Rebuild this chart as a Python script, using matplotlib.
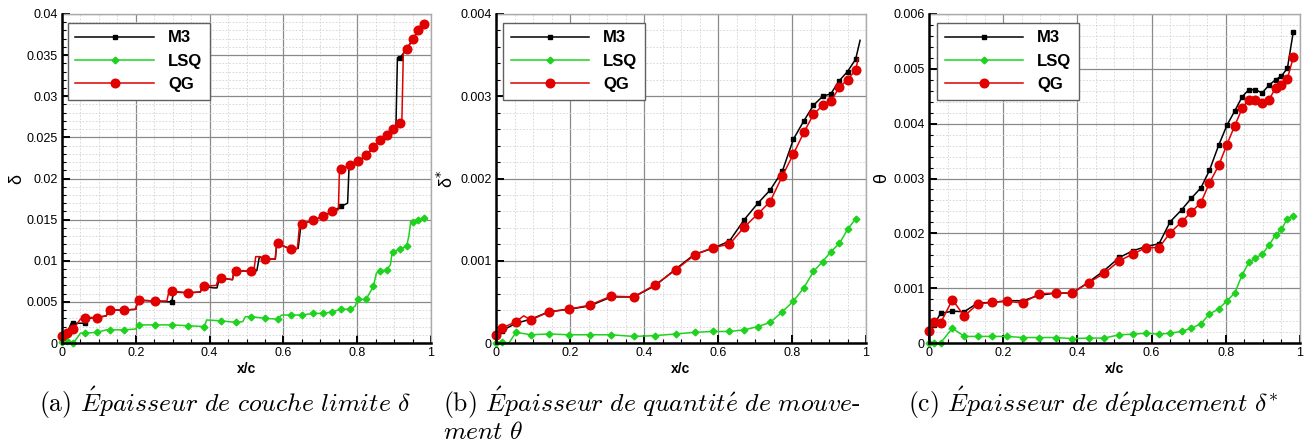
import matplotlib
matplotlib.use("Agg")
import matplotlib.pyplot as plt
from matplotlib.lines import Line2D
from matplotlib.ticker import MultipleLocator, FuncFormatter

# ---------------- data ----------------
series_names = ["M3", "LSQ", "QG"]

# marker abscissae shared by panels (a) and (c)
xm_ac = [0.0, 0.0135, 0.031, 0.063, 0.095, 0.131, 0.169, 0.21, 0.253, 0.297, 0.341,
         0.386, 0.43, 0.472, 0.513, 0.549, 0.585, 0.62, 0.65, 0.681, 0.707, 0.733,
         0.756, 0.781, 0.803, 0.824, 0.844, 0.862, 0.88, 0.898, 0.916, 0.934, 0.95,
         0.966, 0.982]

# panel (a): boundary-layer thickness delta, markers
a_m3_m = [0.0008, 0.0012, 0.0024, 0.0024, 0.0031, 0.0040, 0.0040, 0.0052, 0.0051, 0.0050,
          0.0061, 0.0069, 0.0079, 0.0088, 0.0087, 0.0102, 0.0121, 0.0114, 0.0145, 0.0149,
          0.0154, 0.0160, 0.0166, 0.0216, 0.0221, 0.0228, 0.0238, 0.0247, 0.0253, 0.0260,
          0.0347, 0.0357, 0.0369, 0.0380, 0.0388]
a_lsq_m = [0.0001, 0.0002, 0.0000, 0.0012, 0.0013, 0.0016, 0.0016, 0.0022, 0.0022, 0.0022,
           0.0021, 0.0020, 0.0027, 0.0025, 0.0032, 0.0030, 0.0029, 0.0034, 0.0034, 0.0036,
           0.0036, 0.0038, 0.0041, 0.0041, 0.0053, 0.0053, 0.0069, 0.0087, 0.0089, 0.0111,
           0.0114, 0.0118, 0.0147, 0.0150, 0.0152]
a_qg_m = [0.0008, 0.0012, 0.0017, 0.0031, 0.0031, 0.0040, 0.0040, 0.0052, 0.0051, 0.0063,
          0.0061, 0.0069, 0.0079, 0.0088, 0.0087, 0.0102, 0.0121, 0.0114, 0.0145, 0.0149,
          0.0154, 0.0160, 0.0212, 0.0216, 0.0221, 0.0228, 0.0238, 0.0247, 0.0253, 0.0260,
          0.0267, 0.0357, 0.0369, 0.0380, 0.0388]

# panel (a): staircase line vertices
a_m3_lx = [0, 0.0135, 0.025, 0.031, 0.063, 0.07, 0.095, 0.12, 0.126, 0.131, 0.169, 0.2,
           0.205, 0.21, 0.253, 0.297, 0.303, 0.341, 0.375, 0.38, 0.386, 0.41, 0.42, 0.427,
           0.43, 0.462, 0.467, 0.472, 0.513, 0.528, 0.535, 0.549, 0.578, 0.582, 0.585,
           0.62, 0.64, 0.648, 0.65, 0.681, 0.707, 0.733, 0.756, 0.774, 0.778, 0.781, 0.803,
           0.824, 0.844, 0.862, 0.88, 0.898, 0.905, 0.909, 0.916, 0.934, 0.95, 0.966, 0.982]
a_m3_ly = [0.0008, 0.0012, 0.0024, 0.0024, 0.0024, 0.0030, 0.0031, 0.0033, 0.0040, 0.0040,
           0.0040, 0.0041, 0.0052, 0.0052, 0.0051, 0.0050, 0.0062, 0.0061, 0.0062, 0.0069,
           0.0069, 0.0067, 0.0067, 0.0079, 0.0079, 0.0077, 0.0088, 0.0088, 0.0087, 0.0088,
           0.0105, 0.0102, 0.0102, 0.0121, 0.0121, 0.0114, 0.0115, 0.0145, 0.0145, 0.0149,
           0.0154, 0.0160, 0.0166, 0.0170, 0.0215, 0.0216, 0.0221, 0.0228, 0.0238, 0.0247,
           0.0253, 0.0260, 0.0263, 0.0347, 0.0347, 0.0357, 0.0369, 0.0380, 0.0388]
a_lsq_lx = [0, 0.0135, 0.031, 0.05, 0.063, 0.095, 0.12, 0.131, 0.169, 0.2, 0.205, 0.21,
            0.253, 0.297, 0.341, 0.386, 0.392, 0.43, 0.472, 0.49, 0.497, 0.513, 0.549,
            0.585, 0.595, 0.62, 0.65, 0.681, 0.707, 0.733, 0.756, 0.781, 0.795, 0.8, 0.803,
            0.824, 0.844, 0.852, 0.862, 0.88, 0.89, 0.895, 0.898, 0.916, 0.934, 0.94,
            0.945, 0.95, 0.966, 0.982]
a_lsq_ly = [0.0001, 0.0002, 0.0000, 0.0012, 0.0012, 0.0013, 0.0016, 0.0016, 0.0016, 0.0017,
            0.0022, 0.0022, 0.0022, 0.0022, 0.0021, 0.0020, 0.0028, 0.0027, 0.0025, 0.0026,
            0.0032, 0.0032, 0.0030, 0.0029, 0.0034, 0.0034, 0.0034, 0.0036, 0.0036, 0.0038,
            0.0041, 0.0041, 0.0045, 0.0053, 0.0053, 0.0053, 0.0069, 0.0085, 0.0087, 0.0089,
            0.0095, 0.0111, 0.0111, 0.0114, 0.0118, 0.0130, 0.0147, 0.0147, 0.0150, 0.0152]
a_qg_lx = [0, 0.0135, 0.031, 0.05, 0.063, 0.095, 0.12, 0.126, 0.131, 0.169, 0.2, 0.205,
           0.21, 0.253, 0.284, 0.29, 0.297, 0.341, 0.375, 0.38, 0.386, 0.418, 0.424, 0.43,
           0.462, 0.467, 0.472, 0.513, 0.52, 0.525, 0.535, 0.549, 0.578, 0.582, 0.585, 0.62,
           0.638, 0.644, 0.65, 0.681, 0.707, 0.733, 0.749, 0.752, 0.756, 0.781, 0.803,
           0.824, 0.844, 0.862, 0.88, 0.898, 0.916, 0.921, 0.925, 0.934, 0.95, 0.966, 0.982]
a_qg_ly = [0.0008, 0.0012, 0.0017, 0.0029, 0.0031, 0.0031, 0.0033, 0.0040, 0.0040, 0.0040,
           0.0041, 0.0052, 0.0052, 0.0051, 0.0051, 0.0063, 0.0063, 0.0061, 0.0062, 0.0069,
           0.0069, 0.0070, 0.0079, 0.0079, 0.0077, 0.0088, 0.0088, 0.0087, 0.0088, 0.0105,
           0.0105, 0.0102, 0.0102, 0.0121, 0.0121, 0.0114, 0.0115, 0.0145, 0.0145, 0.0149,
           0.0154, 0.0160, 0.0162, 0.0212, 0.0212, 0.0216, 0.0221, 0.0228, 0.0238, 0.0247,
           0.0253, 0.0260, 0.0267, 0.0268, 0.0352, 0.0357, 0.0369, 0.0380, 0.0388]

# panel (b)
xm_b = [0.0, 0.016, 0.054, 0.0945, 0.143, 0.196, 0.253, 0.311, 0.372, 0.431, 0.486, 0.537,
        0.586, 0.631, 0.671, 0.708, 0.741, 0.774, 0.804, 0.832, 0.858, 0.883, 0.905, 0.928,
        0.95, 0.972]
b_m3_m = [0.0001, 0.00015, 0.00024, 0.00029, 0.00038, 0.00041, 0.00045, 0.00056, 0.00056,
          0.00070, 0.00090, 0.00108, 0.00115, 0.00124, 0.00150, 0.00170, 0.00186, 0.00209,
          0.00248, 0.00270, 0.00289, 0.00300, 0.00303, 0.00319, 0.00330, 0.00345]
b_lsq_m = [0.0, 0.00001, 0.00013, 0.00010, 0.00011, 0.00010, 0.00010, 0.00010, 0.00008,
           0.00009, 0.00011, 0.00013, 0.00014, 0.00014, 0.00016, 0.00020, 0.00025, 0.00038,
           0.00051, 0.00067, 0.00087, 0.00099, 0.00111, 0.00121, 0.00138, 0.00151]
b_qg_m = [0.0001, 0.00018, 0.00026, 0.00028, 0.00038, 0.00041, 0.00046, 0.00057, 0.00056,
          0.00071, 0.00089, 0.00107, 0.00116, 0.00120, 0.00141, 0.00157, 0.00172, 0.00203,
          0.00230, 0.00256, 0.00278, 0.00289, 0.00294, 0.00311, 0.00320, 0.00332]
b_m3_end = (0.984, 0.00368)
b_qg_end = (0.979, 0.00346)
b_qg_bump = (0.075, 0.00033)
b_lsq_flat = (0.035, 0.0)

# panel (c)
c_m3_m = [0.00025, 0.00033, 0.00054, 0.00058, 0.00057, 0.00073, 0.00074, 0.00077, 0.00077,
          0.00087, 0.00091, 0.00091, 0.00111, 0.00132, 0.00156, 0.00168, 0.00176, 0.00181,
          0.00221, 0.00243, 0.00264, 0.00283, 0.00315, 0.00361, 0.00397, 0.00423, 0.00449,
          0.00462, 0.00462, 0.00456, 0.00470, 0.00480, 0.00487, 0.00501, 0.00568]
c_lsq_m = [0.0, 0.0, 0.0, 0.00027, 0.00012, 0.00012, 0.00012, 0.00012, 0.00010, 0.00010,
           0.00010, 0.00008, 0.00009, 0.00009, 0.00015, 0.00016, 0.00018, 0.00016, 0.00018,
           0.00021, 0.00027, 0.00035, 0.00053, 0.00062, 0.00077, 0.00091, 0.00124, 0.00147,
           0.00155, 0.00162, 0.00178, 0.00197, 0.00207, 0.00227, 0.00231]
c_qg_m = [0.00021, 0.00039, 0.00036, 0.00079, 0.00049, 0.00071, 0.00074, 0.00076, 0.00073,
          0.00090, 0.00091, 0.00091, 0.00110, 0.00127, 0.00150, 0.00162, 0.00174, 0.00174,
          0.00201, 0.00221, 0.00239, 0.00256, 0.00292, 0.00324, 0.00362, 0.00396, 0.00428,
          0.00444, 0.00444, 0.00438, 0.00443, 0.00465, 0.00470, 0.00482, 0.00521]

ylims = [0.04, 0.004, 0.006]
ymajor = [0.005, 0.001, 0.001]
yminor = [0.001, 0.0002, 0.0002]
ylabels = ["δ", "δ$^{*}$", "θ"]
caption_lines = [
    (39, 398, r"(a) $\mathit{\acute{E}paisseur\ de\ couche\ limite}\ \delta$"),
    (443, 398, r"(b) $\mathit{\acute{E}paisseur\ de\ quantit\acute{e}\ de\ mouve}$-"),
    (443, 430, r"$\mathit{ment}\ \theta$"),
    (908, 398, r"(c) $\mathit{\acute{E}paisseur\ de\ d\acute{e}placement}\ \delta^{*}$"),
]

# ---------------- styles ----------------
colors = {"M3": "black", "LSQ": "#1ed21e", "QG": "#e00000"}
mk = {"M3": dict(marker="s", ms=3.4), "LSQ": dict(marker="D", ms=3.4),
      "QG": dict(marker="o", ms=6.2)}
LW = 1.1

plt.rcParams["font.family"] = ["Liberation Sans", "DejaVu Sans"]

W, H = 1306, 446
fig = plt.figure(figsize=(W / 100, H / 100), dpi=100)
ax_px = [(62, 431), (496, 866), (929, 1300)]
top_px, bot_px = 14, 343
axes = []
for (l, r) in ax_px:
    ax = fig.add_axes([l / W, (H - bot_px) / H, (r - l) / W, (bot_px - top_px) / H])
    axes.append(ax)

panel_data = [
    dict(
        M3=(a_m3_lx, a_m3_ly, xm_ac, a_m3_m),
        LSQ=(a_lsq_lx, a_lsq_ly, xm_ac, a_lsq_m),
        QG=(a_qg_lx, a_qg_ly, xm_ac, a_qg_m),
    ),
    dict(
        M3=(xm_b + [b_m3_end[0]], b_m3_m + [b_m3_end[1]], xm_b, b_m3_m),
        LSQ=(xm_b[:2] + [b_lsq_flat[0]] + xm_b[2:], b_lsq_m[:2] + [b_lsq_flat[1]] + b_lsq_m[2:],
             xm_b, b_lsq_m),
        QG=(xm_b[:3] + [b_qg_bump[0]] + xm_b[3:] + [b_qg_end[0]],
            b_qg_m[:3] + [b_qg_bump[1]] + b_qg_m[3:] + [b_qg_end[1]], xm_b, b_qg_m),
    ),
    dict(
        M3=(xm_ac, c_m3_m, xm_ac, c_m3_m),
        LSQ=(xm_ac, c_lsq_m, xm_ac, c_lsq_m),
        QG=(xm_ac, c_qg_m, xm_ac, c_qg_m),
    ),
]

fmt = FuncFormatter(lambda v, p: "%g" % round(v, 6))
legend_x = [0.016, 0.019, 0.022]
ylabel_px = [17, 447, 882]

for i, ax in enumerate(axes):
    for z, name in enumerate(series_names):
        lx, ly, mx, my = panel_data[i][name]
        c = colors[name]
        ax.plot(lx, ly, color=c, lw=LW, zorder=3 + z, clip_on=False)
        ax.plot(mx, my, ls="none", color=c, mec=c, mfc=c, zorder=3 + z,
                clip_on=False, **mk[name])
    ax.set_xlim(0, 1)
    ax.set_ylim(0, ylims[i])
    ax.xaxis.set_major_locator(MultipleLocator(0.2))
    ax.xaxis.set_minor_locator(MultipleLocator(0.05))
    ax.yaxis.set_major_locator(MultipleLocator(ymajor[i]))
    ax.yaxis.set_minor_locator(MultipleLocator(yminor[i]))
    ax.xaxis.set_major_formatter(fmt)
    ax.yaxis.set_major_formatter(fmt)
    ax.grid(which="major", color="#8a8a8a", lw=0.9, zorder=1)
    ax.grid(which="minor", color="#d2d2d2", lw=0.6, ls=(0, (2, 2)), zorder=1)
    ax.set_axisbelow(True)
    ax.tick_params(which="major", direction="in", length=6, width=1.4,
                   labelsize=9, pad=3, top=False, right=False)
    ax.tick_params(which="minor", direction="in", length=3, width=0.8,
                   top=False, right=False)
    for s in ("left", "bottom"):
        ax.spines[s].set_color("black")
        ax.spines[s].set_linewidth(1.8)
        ax.spines[s].set_zorder(10)
    for s in ("top", "right"):
        ax.spines[s].set_color("#aaaaaa")
        ax.spines[s].set_linewidth(1.0)
    ax.set_xlabel("x/c", fontsize=10, fontweight="bold", labelpad=2)
    ax.set_ylabel(ylabels[i], fontsize=13, rotation=90, math_fontfamily="dejavusans",
                  va="center", ha="center")
    l = ax_px[i][0]
    r = ax_px[i][1]
    ax.yaxis.set_label_coords((ylabel_px[i] - l) / (r - l), 0.5)

    handles = [Line2D([0], [0], color=colors[n], lw=LW, mfc=colors[n], mec=colors[n],
                      **mk[n]) for n in series_names]
    leg = ax.legend(handles, series_names, loc="upper left",
                    bbox_to_anchor=(legend_x[i], 0.973), borderaxespad=0,
                    prop=dict(family="Liberation Sans", weight="bold", size=12),
                    handlelength=4.7, handletextpad=0.85, labelspacing=0.5,
                    borderpad=0.45, fancybox=False, framealpha=1, edgecolor="#606060")
    leg.get_frame().set_linewidth(1.0)
    leg.set_zorder(20)

# captions
for x, y, txt in caption_lines:
    fig.text(x / W, 1 - y / H, txt, ha="left", va="center_baseline",
             fontsize=18.5, family="cmr10", math_fontfamily="cm")

fig.savefig("out.png", dpi=100)
